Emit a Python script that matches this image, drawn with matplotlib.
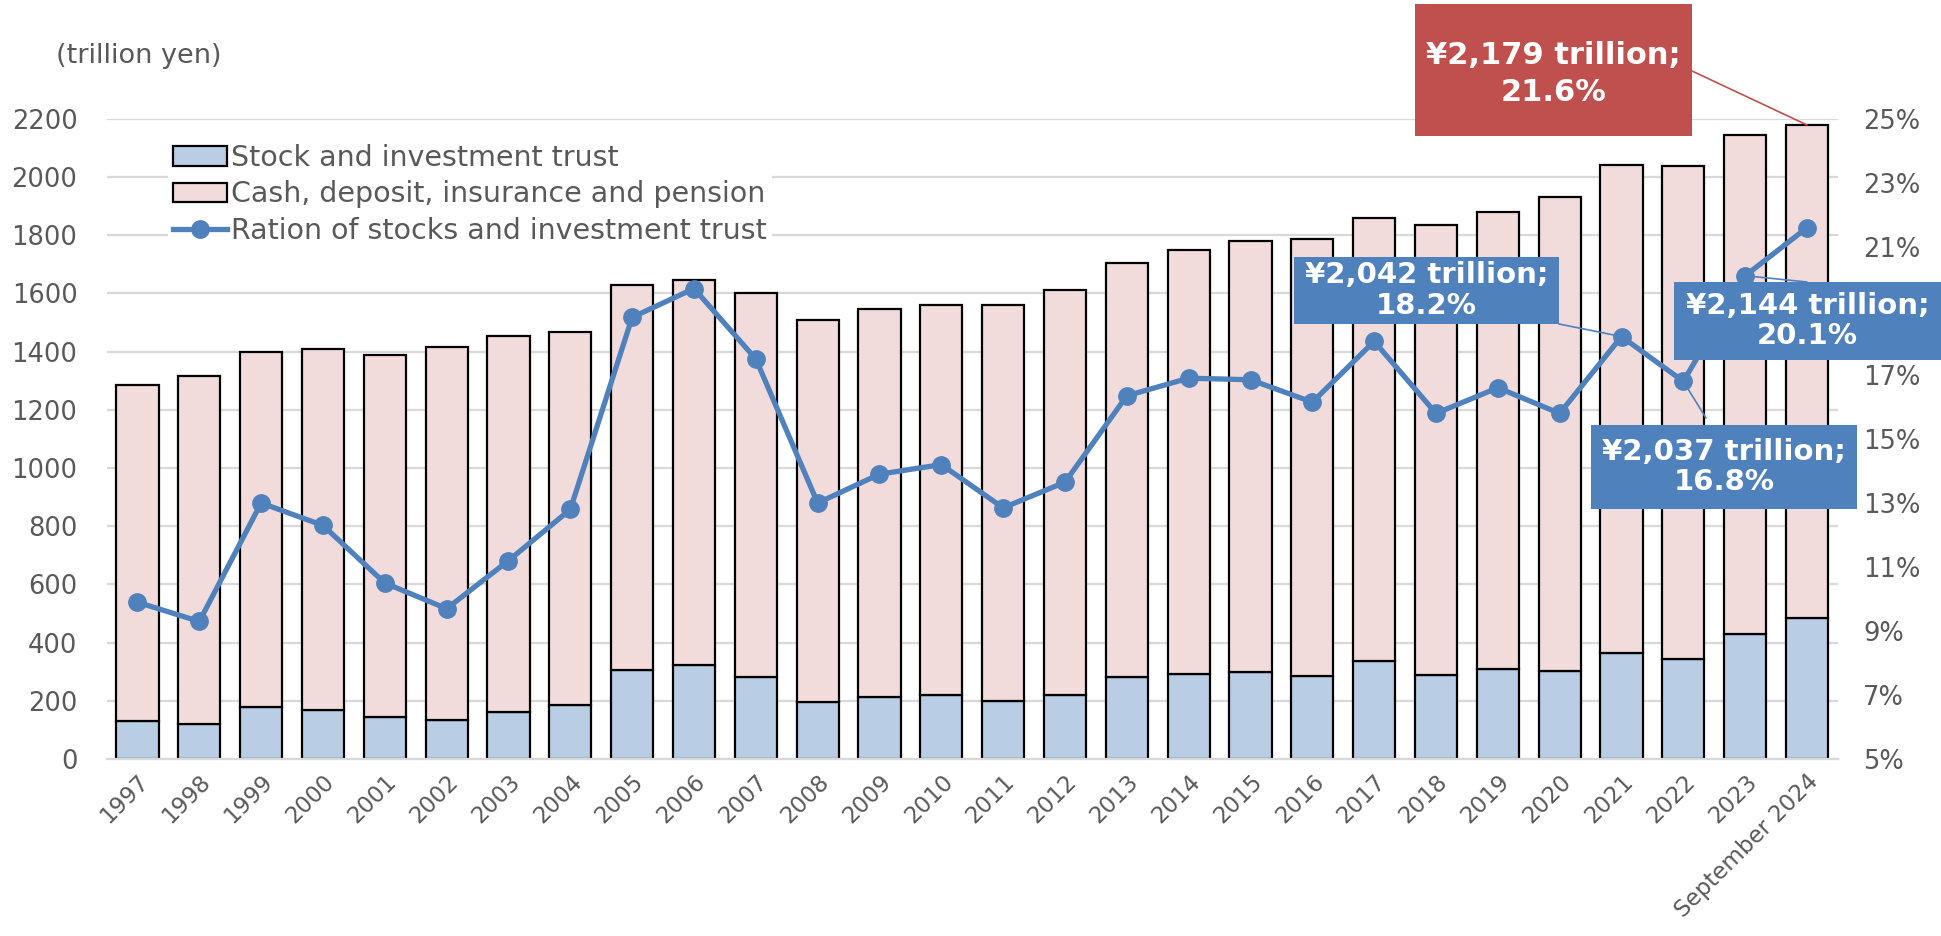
import matplotlib.pyplot as plt
from matplotlib.patches import Rectangle
import numpy as np

# data (trillion yen / %)
years = ['1997', '1998', '1999', '2000', '2001', '2002', '2003', '2004', '2005',
         '2006', '2007', '2008', '2009', '2010', '2011', '2012', '2013', '2014',
         '2015', '2016', '2017', '2018', '2019', '2020', '2021', '2022', '2023',
         'September 2024']
total = [1285, 1315, 1400, 1408, 1387, 1417, 1455, 1468, 1630, 1647, 1600, 1510,
         1545, 1562, 1562, 1613, 1706, 1749, 1779, 1787, 1859, 1834, 1881, 1932,
         2042, 2037, 2144, 2179]
stock = [132, 119, 179, 170, 145, 136, 162, 187, 306, 323, 281, 196, 213, 221,
         200, 221, 281, 294, 298, 285, 336, 289, 311, 302, 366, 345, 430, 486]
ratio = [9.9, 9.3, 13.0, 12.3, 10.5, 9.7, 11.2, 12.8, 18.8, 19.7, 17.5, 13.0,
         13.9, 14.2, 12.85, 13.65, 16.35, 16.9, 16.85, 16.15, 18.05, 15.8, 16.6,
         15.8, 18.2, 16.8, 20.1, 21.6]

cash = [t - s for t, s in zip(total, stock)]

grey = '#595959'
blue = '#4F81BD'
red = '#C0504D'

plt.rcParams['font.family'] = ['DejaVu Sans']

W, H = 1941, 936
fig = plt.figure(figsize=(W / 100, H / 100), dpi=100)
ax1 = fig.add_axes([0.0549, 0.189, 0.892, 0.684])
ax2 = ax1.twinx()

x = np.arange(len(years))
b1 = ax1.bar(x, stock, 0.68, color='#B9CDE5', edgecolor='black', linewidth=1.6,
             label='Stock and investment trust', zorder=2)
b2 = ax1.bar(x, cash, 0.68, bottom=stock, color='#F2DCDB', edgecolor='black',
             linewidth=1.6, label='Cash, deposit, insurance and pension', zorder=2)
ln, = ax2.plot(x, ratio, '-o', color=blue, lw=3.8, markersize=12.5,
               label='Ration of stocks and investment trust', zorder=3)

ax1.set_xlim(-0.5, len(years) - 0.5)
ax1.set_ylim(0, 2200)
ax1.set_yticks(np.arange(0, 2201, 200))
ax2.set_ylim(5, 25)
ax2.set_yticks(np.arange(5, 26, 2))
ax2.set_yticklabels([f'{v}%' for v in range(5, 26, 2)])

ax1.grid(axis='y', color='#D9D9D9', lw=1.6, zorder=0)
ax1.set_axisbelow(True)
for ax in (ax1, ax2):
    for s in ax.spines.values():
        s.set_visible(False)
ax1.spines['bottom'].set_visible(True)
ax1.spines['bottom'].set_color('#D9D9D9')
ax1.spines['bottom'].set_linewidth(1.6)

ax1.set_xticks(x)
ax1.set_xticklabels(years, rotation=45, ha='right', rotation_mode='anchor')
ax1.tick_params(axis='x', length=0, labelsize=16.5, colors=grey, pad=8)
ax1.tick_params(axis='y', length=0, labelsize=18.5, colors=grey, pad=21)
ax2.tick_params(axis='y', length=0, labelsize=18.5, colors=grey, pad=18)

fig.text(0.029, 0.94, '(trillion yen)', fontsize=19.5, color=grey, va='center')

leg = ax2.legend(handles=[b1, b2, ln], loc='upper left',
                 bbox_to_anchor=(0.027, 0.992), fontsize=20.5, frameon=True,
                 framealpha=1, edgecolor='none', handlelength=1.9,
                 handletextpad=0.12, labelspacing=0.3, borderpad=0.2)
for t in leg.get_texts():
    t.set_color(grey)


# callouts: box in figure pixels (left, top, right, bottom), leader start, target
def callout(ax, text, xy, box, start, color, size, spacing, dy=0):
    l, t, r, b = box
    fig.add_artist(Rectangle((l / W, 1 - b / H), (r - l) / W, (b - t) / H,
                             transform=fig.transFigure, fc=color, ec='none',
                             zorder=5))
    fig.text((l + r) / 2 / W, 1 - ((t + b) / 2 + dy) / H, text, color='white',
             fontsize=size, fontweight='bold', ha='center', va='center',
             linespacing=spacing, zorder=6)
    ax.annotate('', xy=xy, xytext=(start[0], H - start[1]),
                textcoords='figure pixels', annotation_clip=False,
                arrowprops=dict(arrowstyle='-', color=color, lw=1.2,
                                shrinkA=0, shrinkB=0), zorder=4)


n = len(years) - 1
callout(ax1, f'¥{total[n]:,} trillion;\n{ratio[n]}%', (n, total[n]),
        (1415, 4, 1692, 136), (1692, 71), red, 22, 1.35, dy=4)
callout(ax2, f'¥{total[24]:,} trillion;\n{ratio[24]}%', (24, ratio[24]),
        (1294, 257, 1559, 324), (1559, 324), blue, 21, 1.12)
callout(ax2, f'¥{total[26]:,} trillion;\n{ratio[26]}%', (26, ratio[26]),
        (1674, 282, 1941, 360), (1807, 282), blue, 21, 1.12)
callout(ax2, f'¥{total[25]:,} trillion;\n{ratio[25]}%', (25, ratio[25]),
        (1591, 425, 1857, 509), (1706, 418), blue, 21, 1.12)

fig.savefig('out.png', dpi=100)
